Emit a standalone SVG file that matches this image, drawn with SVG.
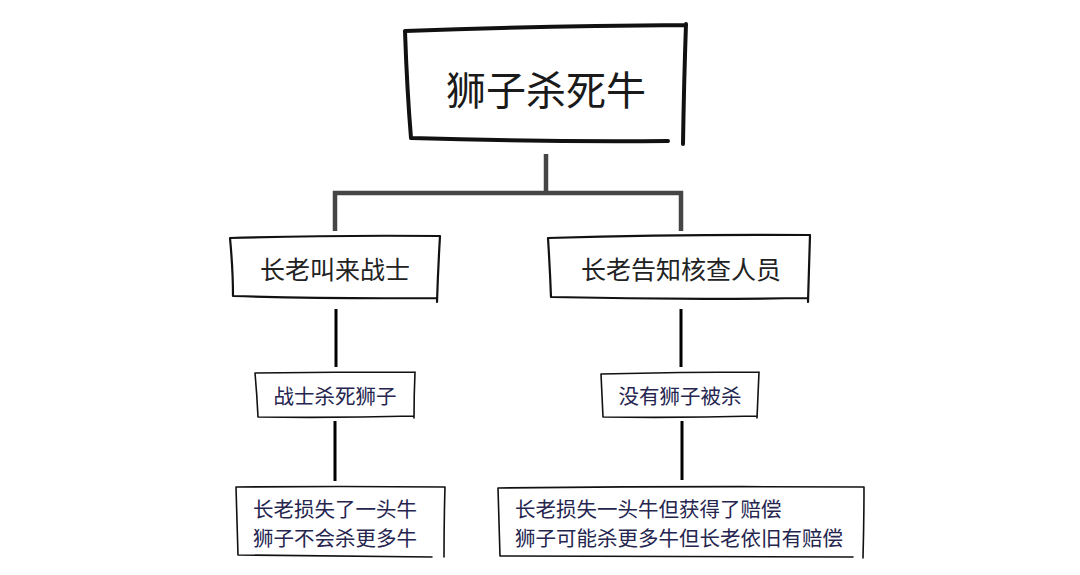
<svg xmlns="http://www.w3.org/2000/svg" width="1080" height="575" viewBox="0 0 1080 575">
<style>
.t{font-family:"Noto Sans CJK SC","Noto Sans",sans-serif;text-anchor:middle;dominant-baseline:central}
.top{font-size:40px;fill:#1a1a1a}
.mid{font-size:25px;fill:#222}
.low{font-size:20.5px;fill:#25254f}
.sk{fill:#fff;stroke:#111;stroke-linecap:round;stroke-linejoin:round}
.conn{fill:none;stroke:#454545;stroke-width:4.5}
.vl{stroke:#000;stroke-width:3}
</style>
<rect width="1080" height="575" fill="#fff"/>
<g id="connectors">
<path class="conn" d="M546 154 V193 M335 231 V193 H681 V231"/>
<path class="vl" d="M336 309 V367 M681 309 V367 M335 421 V481 M682 421 V480"/>
</g>
<g id="n1">
<path class="sk" stroke-width="4" d="M405 31 Q540 26 686 25 M405 31 Q407 90 411 138 M686 24 Q684 80 683 144 M411 138 Q540 142 668 141"/>
<text class="t top" x="546" y="88">狮子杀死牛</text>
</g>
<g id="n2">
<path class="sk" stroke-width="2.2" d="M230 238 Q330 235 440 236 M230 238 Q233 270 233 296 M440 236 Q438 270 437 302 M233 296 Q330 299 437 298"/>
<text class="t mid" x="335" y="268">长老叫来战士</text>
</g>
<g id="n3">
<path class="sk" stroke-width="2.2" d="M548 238 Q680 234 810 235 M548 238 Q550 270 551 297 M810 235 Q809 270 808 302 M551 297 Q680 300 808 298"/>
<text class="t mid" x="681" y="268">长老告知核查人员</text>
</g>
<g id="n4">
<path class="sk" stroke-width="1.6" d="M255 373 Q335 372 415 372 M255 373 Q257 395 258 417 M415 372 Q414 395 414 418 M258 417 Q335 418 414 416"/>
<text class="t low" x="335" y="395">战士杀死狮子</text>
</g>
<g id="n5">
<path class="sk" stroke-width="1.6" d="M601 374 Q680 372 759 372 M601 374 Q602 395 603 417 M759 372 Q758 395 757 418 M603 417 Q680 418 757 416"/>
<text class="t low" x="680" y="395">没有狮子被杀</text>
</g>
<g id="n6">
<path class="sk" stroke-width="1.6" d="M236 487 Q340 486 445 487 M236 487 Q237 520 238 555 M445 487 Q444 520 444 557 M238 555 Q340 556 432 557"/>
<text class="t low" x="335" y="508">长老损失了一头牛</text>
<text class="t low" x="335" y="537">狮子不会杀更多牛</text>
</g>
<g id="n7">
<path class="sk" stroke-width="1.6" d="M498 488 Q680 486 864 487 M498 488 Q499 520 500 556 M864 487 Q864 520 863 558 M500 556 Q680 557 853 557"/>
<text class="t low" x="515" y="508" style="text-anchor:start">长老损失一头牛但获得了赔偿</text>
<text class="t low" x="515" y="537" style="text-anchor:start">狮子可能杀更多牛但长老依旧有赔偿</text>
</g>
</svg>
